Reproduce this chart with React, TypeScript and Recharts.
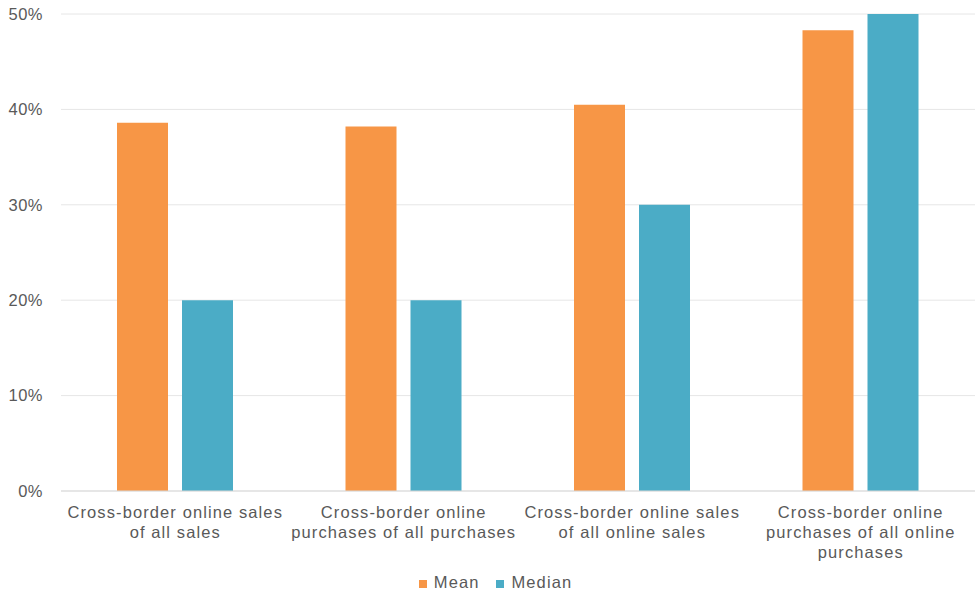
import React from "react";
import { BarChart, Bar, XAxis, YAxis, CartesianGrid, Legend } from "recharts";

const categories = [
  "Cross-border online sales\nof all sales",
  "Cross-border online\npurchases of all purchases",
  "Cross-border online sales\nof all online sales",
  "Cross-border online\npurchases of all online\npurchases",
];
const meanValues = [38.6, 38.2, 40.5, 48.3];
const medianValues = [20, 20, 30, 50];
const yTicks = [0, 10, 20, 30, 40, 50];

const data = categories.map((c, i) => ({ name: c, Mean: meanValues[i], Median: medianValues[i] }));

const FONT = "'Liberation Sans', Arial, sans-serif";
const TEXT = "#595959";

const XTick = (props: any) => {
  const { x, y, payload } = props;
  const lines = String(payload.value).split("\n");
  return (
    <text x={x} y={y} textAnchor="middle" fill={TEXT} fontSize={16.5} letterSpacing={1.1} fontFamily={FONT}>
      {lines.map((l, i) => (
        <tspan key={i} x={x} dy={i === 0 ? 19 : 20}>
          {l}
        </tspan>
      ))}
    </text>
  );
};

const LegendContent = () => (
  <div style={{ display: "flex", justifyContent: "center", alignItems: "center", fontFamily: FONT, fontSize: 16.5, letterSpacing: 1.1, color: TEXT, height: 24, paddingTop: 2, paddingLeft: 16 }}>
    {[
      { label: "Mean", color: "#F79646" },
      { label: "Median", color: "#4BACC6" },
    ].map((it, i) => (
      <div key={it.label} style={{ display: "flex", alignItems: "center", marginRight: i === 0 ? 17 : 0 }}>
        <span style={{ display: "inline-block", width: 8, height: 8, background: it.color, marginRight: 7, marginTop: 3 }} />
        <span>{it.label}</span>
      </div>
    ))}
  </div>
);

export default function App() {
  return (
    <div style={{ position: "absolute", left: 0, top: 0, background: "#fff" }}>
      <BarChart width={976} height={592} data={data} margin={{ top: 14, right: 1, left: 0, bottom: 0 }} barSize={51} barGap={14}>
        <CartesianGrid vertical={false} stroke="#e6e6e6" />
        <XAxis dataKey="name" height={77} interval={0} tickLine={false} axisLine={{ stroke: "#d9d9d9" }} tick={<XTick />} />
        <YAxis
          width={61}
          domain={[0, 50]}
          ticks={yTicks}
          tickFormatter={(v: number) => `${v}%`}
          axisLine={false}
          tickLine={false}
          tickMargin={12}
          tick={{ fill: TEXT, fontSize: 16.5, letterSpacing: 0.5, fontFamily: FONT }}
        />
        <Legend verticalAlign="bottom" height={24} content={<LegendContent />} />
        <Bar dataKey="Mean" fill="#F79646" isAnimationActive={false} />
        <Bar dataKey="Median" fill="#4BACC6" isAnimationActive={false} />
      </BarChart>
    </div>
  );
}
